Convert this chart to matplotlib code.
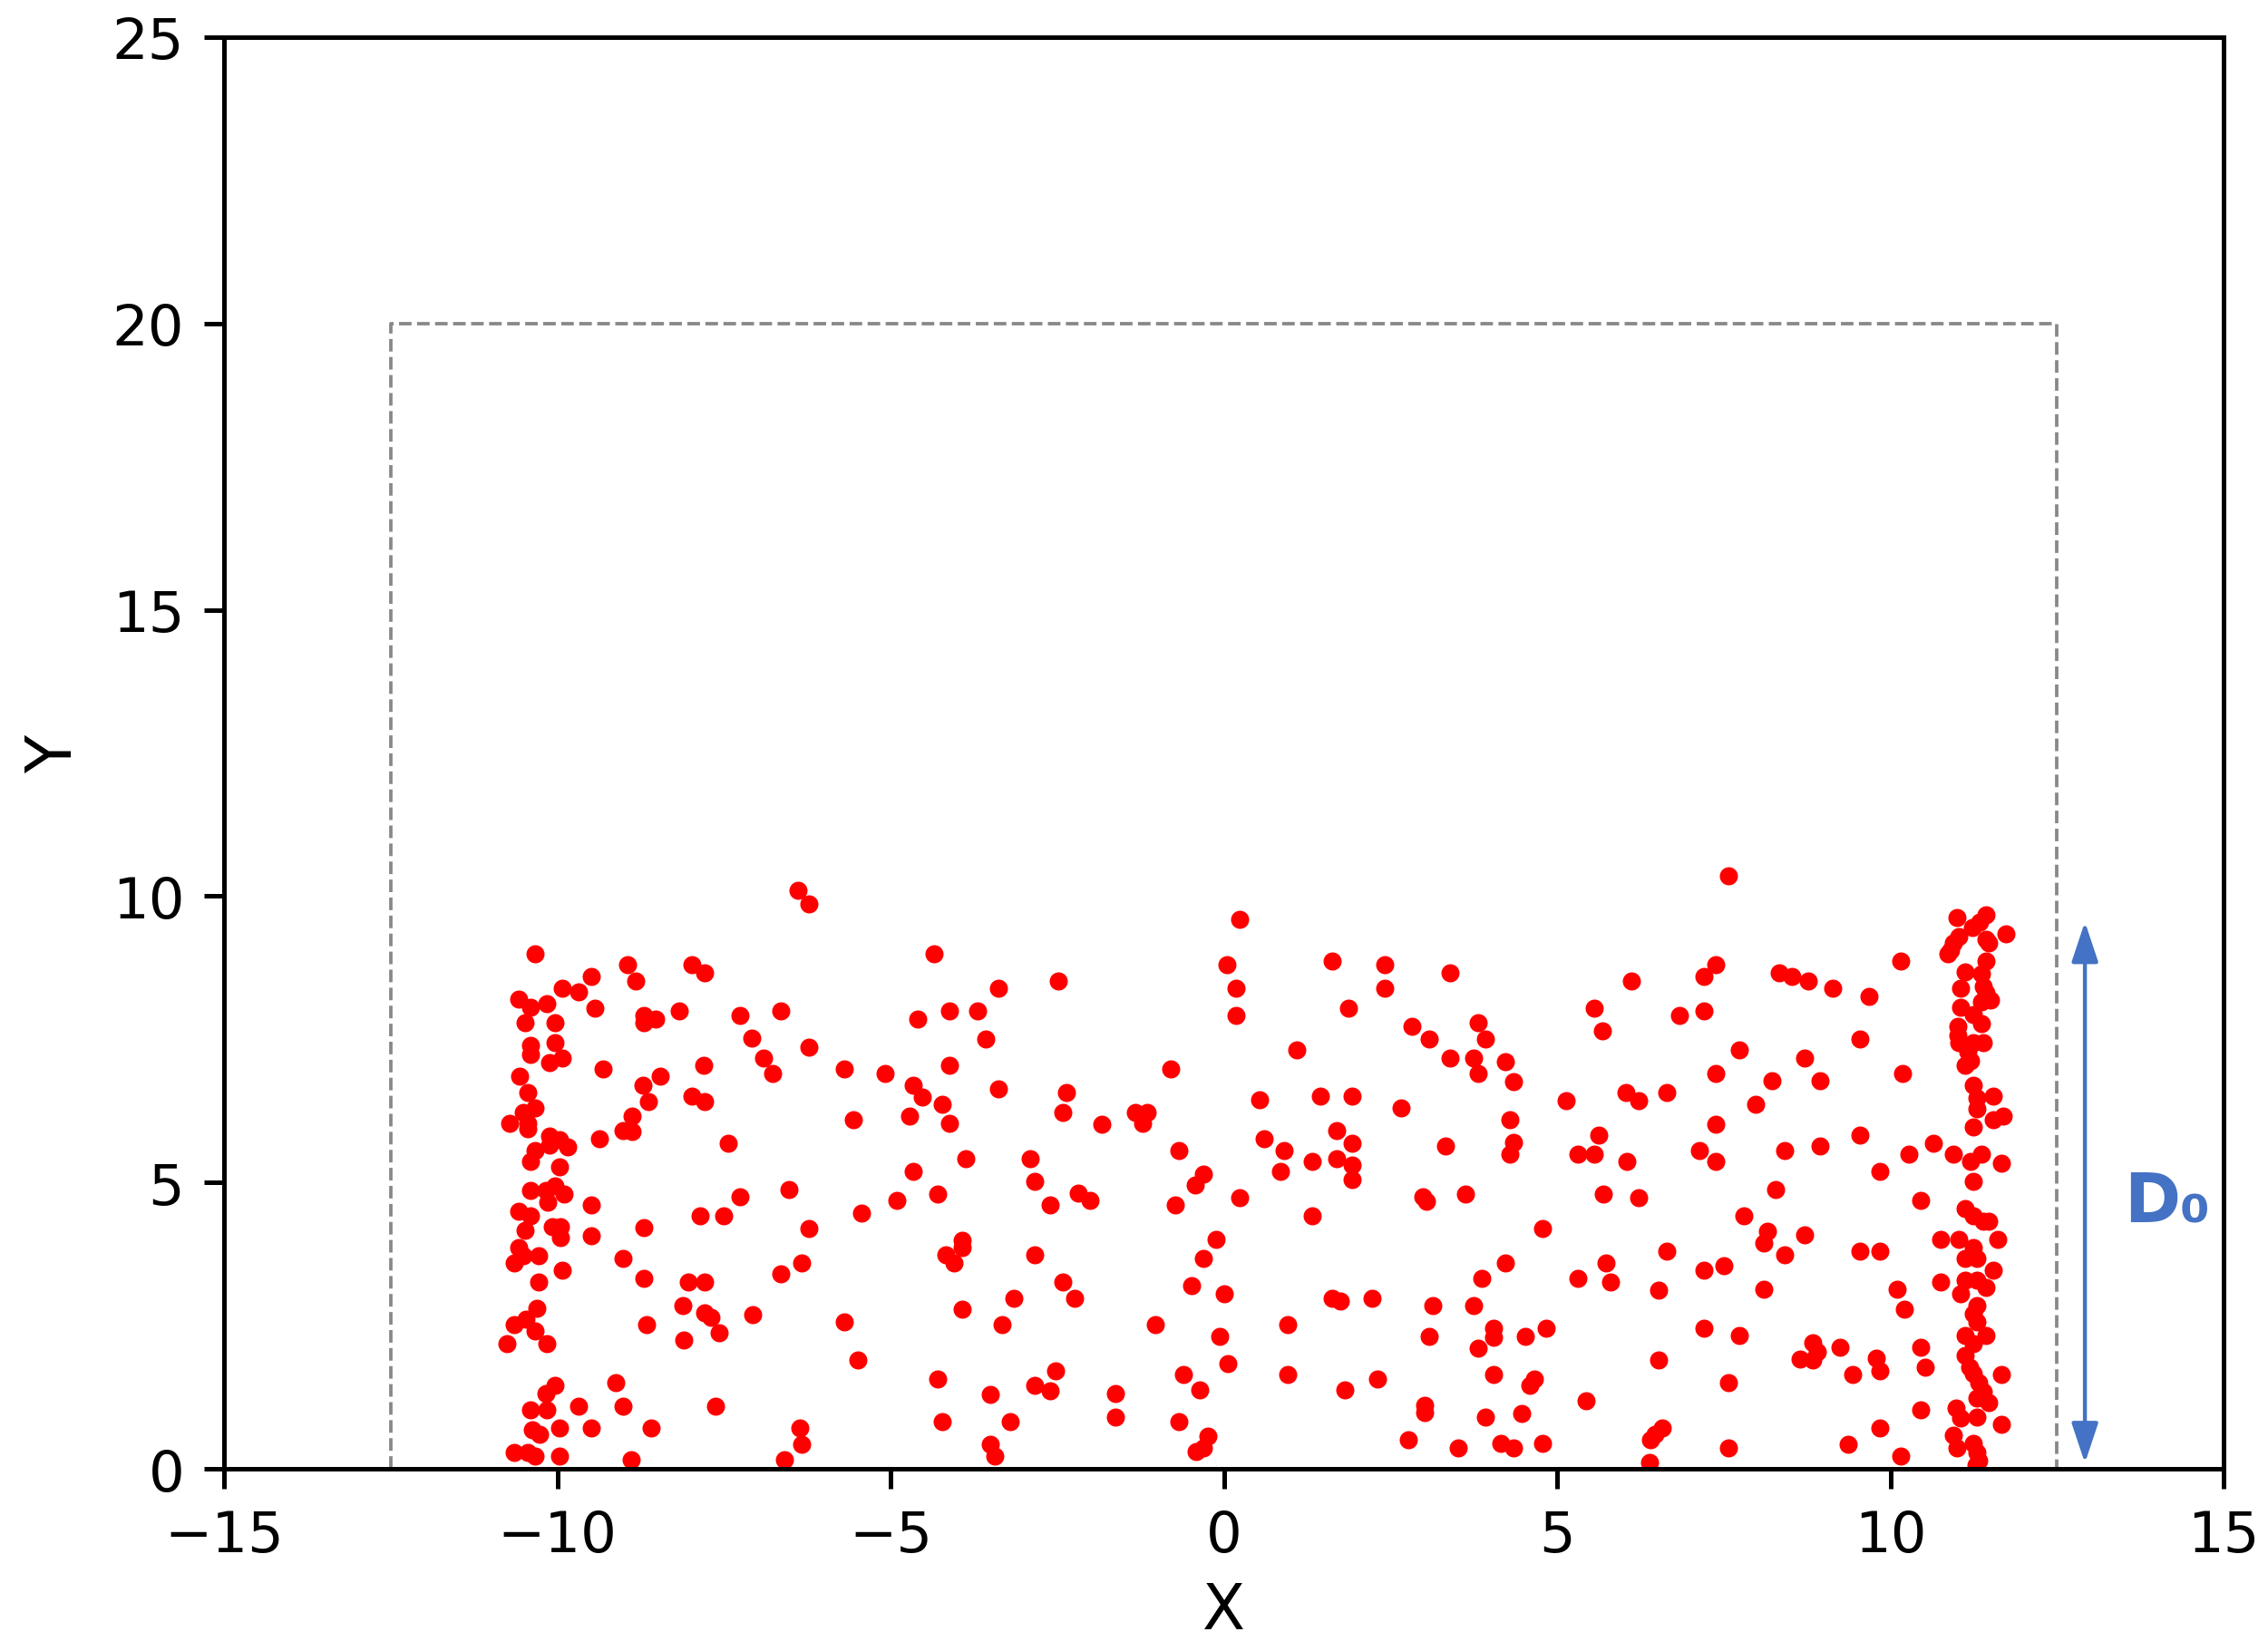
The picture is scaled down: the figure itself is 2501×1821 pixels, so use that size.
import matplotlib.pyplot as plt

# particle positions, grouped roughly left to right
x_pts = [
    # x < -6.4, upper half
    -6.39, -10.33, -8.95, -8.82, -7.98, -7.79, -9.49, -9.92, -9.68, -10.58,
    -10.40, -10.16, -9.44, -8.70, -8.70, -8.52, -8.17, -7.26, -6.65, -10.49,
    -10.04, -7.08, -6.91, -6.77, -10.40, -10.40, -10.04, -9.93, -10.11, -9.31,
    -7.80, -10.56, -8.46, -8.71, -10.45, -8.64, -7.98, -7.79, -10.33, -10.51,
    -10.71, -10.45, -10.45, -8.88, -9.02, -8.88, -9.37, -7.43, -10.11, -9.97,
    -9.84, -10.11, -10.34, -10.40, -9.97,
    # x < -6.4, lower half
    -10.40, -10.17, -10.04, -9.90, -10.15, -9.49, -10.58, -10.40, -10.49, -10.08,
    -9.95, -9.95, -9.49, -8.70, -7.86, -7.50, -7.26, -6.52, -10.58, -10.65,
    -10.51, -10.28, -9.92, -10.28, -9.01, -8.70, -8.04, -7.79, -6.65, -10.31,
    -10.47, -10.65, -10.34, -10.76, -10.16, -8.66, -8.11, -7.79, -7.70, -7.57,
    -7.07, -8.10, -10.04, -10.17, -10.40, -10.16, -9.68, -9.13, -9.01, -7.62,
    -10.38, -10.27, -9.97, -9.49, -8.59, -10.65, -10.45, -10.33, -9.97, -8.89,
    -6.59,
    # -6.4 .. -1.8
    -6.23, -4.35, -3.38, -2.48, -4.59, -4.11, -3.69, -3.57, -6.23, -5.69,
    -5.08, -4.11, -4.66, -4.53, -4.23, -3.38, -2.36, -2.42, -1.83, -5.56,
    -4.72, -4.11, -3.87, -2.90, -4.66, -2.84, -2.18, -2.01, -2.60, -4.30,
    -4.90, -5.44, -6.23, -6.33, -3.93, -3.93, -4.17, -4.05, -2.84, -2.42,
    -2.24, -3.15, -3.93, -3.33, -5.69, -5.49, -4.30, -3.51, -2.84, -2.60,
    -2.53, -4.23, -3.20, -6.36, -6.34, -3.51, -3.44,
    # -1.8 .. 2.9
    0.24, 0.05, 0.18, 0.18, 1.63, 2.41, 2.41, 1.87, 2.82, 1.09,
    -0.79, -1.33, -1.15, -1.22, 0.54, 1.45, 1.93, 2.66, 0.60, 0.90,
    1.69, 1.93, 1.69, 1.33, 1.93, -0.67, 0.85, 1.93, -0.31, -0.43,
    -0.73, 0.24, 1.33, -0.12, -0.30, -0.48, 0.00, -1.03, -0.06, 0.06,
    0.96, 1.63, 1.75, 2.23, -0.61, -0.36, 0.96, 1.81, 2.30, -1.63,
    -1.63, -0.67, -0.24, -0.42, -0.31, 2.77,
    # 2.9 .. 7.5
    3.39, 6.11, 7.38, 7.20, 5.56, 5.68, 6.83, 7.20, 3.08, 3.81,
    3.93, 3.39, 3.75, 3.81, 4.23, 4.35, 7.38, 5.14, 6.04, 6.23,
    6.65, 7.38, 4.29, 4.35, 4.29, 3.33, 5.62, 5.31, 5.56, 6.05,
    7.13, 7.38, 2.98, 3.04, 3.63, 5.69, 6.23, 4.78, 6.65, 4.22,
    3.87, 5.74, 5.80, 5.31, 6.53, 7.20, 3.14, 3.75, 3.08, 4.05,
    4.05, 3.81, 4.53, 4.84, 7.20, 6.53, 4.05, 4.66, 4.59, 3.02,
    3.02, 3.93, 4.47, 5.44, 6.58, 6.40, 6.47, 6.39, 3.51, 4.16,
    4.35, 4.78,
    # 7.5 .. 10.8
    7.57, 10.16, 8.33, 8.52, 8.77, 9.13, 9.68, 9.55, 7.74, 8.71,
    8.22, 8.95, 7.98, 10.19, 9.55, 8.41, 8.94, 10.28, 10.64, 10.94,
    9.85, 8.28, 10.46, 7.80, 8.16, 8.10, 8.41, 8.71, 7.51, 9.55,
    9.85, 8.10, 10.10, 10.21, 7.74, 8.83, 8.90, 8.65, 8.83, 9.25,
    9.43, 9.79, 9.85, 10.46, 10.52, 7.57, 10.46, 9.85, 9.37, 10.16,
    7.57,
    # right wall cluster
    11.00, 11.43, 11.34, 11.23, 11.73, 11.43, 11.48, 11.03, 10.94, 10.90,
    10.87, 11.43, 11.12, 11.37, 11.06, 11.39, 11.44, 11.50, 11.37, 11.06,
    11.25, 11.37, 11.01, 11.01, 11.03, 11.25, 11.39, 11.16, 11.21, 11.12,
    11.25, 11.55, 11.30, 11.30, 11.69, 11.55, 11.25, 11.37, 11.21, 11.66,
    11.24, 11.12, 11.25, 11.39, 11.48, 10.76, 11.03, 11.61, 11.25, 11.12,
    11.30, 11.55, 10.76, 11.12, 11.30, 11.44, 11.05, 11.30, 11.25, 11.30,
    11.12, 11.44, 11.25, 11.12, 11.19, 11.25, 11.66, 11.32, 11.39, 11.30,
    11.48, 10.99, 11.05, 11.30, 11.66, 10.94, 11.00, 11.25, 11.30, 11.32,
    11.28,
]
y_pts = [
    10.10, 9.00, 8.81, 8.52, 8.81, 8.66, 8.60, 8.39, 8.33, 8.20,
    8.06, 8.13, 8.05, 7.92, 7.79, 7.86, 7.99, 7.92, 7.99, 7.79,
    7.79, 7.52, 7.18, 6.91, 7.39, 7.23, 7.44, 7.18, 7.10, 6.98,
    7.05, 6.85, 6.85, 6.70, 6.57, 6.42, 6.50, 6.42, 6.30, 6.23,
    6.03, 6.04, 5.94, 6.16, 5.90, 5.89, 5.77, 5.69, 5.81, 5.75,
    5.62, 5.65, 5.56, 5.36, 5.28,
    4.86, 4.86, 4.94, 4.80, 4.65, 4.61, 4.49, 4.41, 4.17, 4.22,
    4.22, 4.04, 4.07, 4.21, 4.41, 4.41, 4.75, 4.88, 3.86, 3.59,
    3.72, 3.72, 3.46, 3.26, 3.67, 3.33, 3.26, 3.26, 3.40, 2.80,
    2.62, 2.52, 2.40, 2.18, 2.18, 2.51, 2.85, 2.72, 2.64, 2.38,
    2.69, 2.25, 1.46, 1.31, 1.03, 1.03, 1.10, 1.51, 1.10, 1.10,
    0.68, 0.61, 0.71, 0.71, 0.71, 0.29, 0.29, 0.22, 0.23, 0.16,
    0.16,
    9.87, 9.00, 8.39, 8.52, 7.85, 7.99, 7.99, 7.51, 7.37, 6.98,
    6.90, 7.05, 6.70, 6.49, 6.37, 6.63, 6.57, 6.23, 6.02, 6.10,
    6.16, 6.03, 5.42, 5.42, 5.20, 5.02, 4.82, 4.68, 4.61, 4.80,
    4.68, 4.47, 4.20, 3.59, 3.99, 3.87, 3.73, 3.59, 3.73, 3.26,
    2.98, 2.98, 2.78, 2.51, 2.57, 1.90, 1.57, 1.30, 1.45, 1.36,
    1.71, 0.83, 0.83, 0.71, 0.43, 0.43, 0.22,
    9.60, 8.80, 8.39, 7.92, 8.87, 8.80, 8.39, 8.05, 7.73, 7.31,
    6.98, 6.23, 6.23, 6.03, 6.44, 6.51, 6.51, 6.30, 5.77, 5.56,
    5.90, 5.69, 5.42, 5.37, 5.31, 5.56, 5.20, 5.05, 5.15, 4.96,
    4.61, 4.74, 4.41, 4.00, 3.67, 3.20, 3.06, 2.52, 2.31, 1.83,
    2.52, 2.98, 2.93, 2.98, 1.64, 1.38, 1.64, 1.38, 1.57, 1.31,
    0.90, 0.83, 0.57, 0.30, 0.37, 0.51,
    8.66, 8.52, 8.80, 8.60, 8.05, 7.65, 7.92, 7.99, 7.51, 7.79,
    7.51, 7.18, 7.18, 6.90, 7.11, 6.76, 6.90, 6.43, 6.57, 6.43,
    6.57, 6.02, 6.10, 5.70, 5.49, 5.63, 5.83, 5.49, 5.49, 5.37,
    5.56, 5.37, 4.75, 4.67, 4.80, 4.80, 4.74, 4.20, 3.80, 3.59,
    3.33, 3.59, 3.26, 3.33, 3.12, 3.46, 2.85, 2.85, 2.31, 2.46,
    2.30, 2.11, 2.31, 2.46, 2.46, 1.90, 1.64, 1.57, 1.45, 1.11,
    0.98, 0.90, 0.97, 1.18, 0.71, 0.51, 0.61, 0.11, 0.36, 0.44,
    0.36, 0.44,
    10.36, 8.87, 8.66, 8.59, 8.52, 8.39, 8.25, 7.51, 7.31, 7.18,
    6.77, 6.77, 6.37, 6.91, 5.83, 5.56, 5.63, 5.49, 5.69, 5.49,
    5.20, 4.88, 4.68, 4.41, 4.15, 3.95, 3.73, 4.08, 3.54, 3.80,
    3.80, 3.13, 3.13, 2.78, 2.33, 2.20, 2.05, 1.92, 1.90, 2.12,
    1.64, 1.93, 1.71, 2.12, 1.77, 1.51, 1.03, 0.71, 0.43, 0.22,
    0.36,
    9.62, 9.67, 9.55, 9.45, 9.34, 9.24, 9.18, 9.29, 9.18, 9.05,
    8.99, 8.87, 8.67, 8.64, 8.39, 8.42, 8.31, 8.18, 8.15, 8.06,
    7.93, 7.78, 7.72, 7.57, 7.44, 7.44, 7.44, 7.28, 7.13, 7.05,
    6.70, 6.51, 6.47, 6.28, 6.16, 6.10, 5.97, 5.49, 5.36, 5.33,
    5.02, 4.54, 4.41, 4.33, 4.33, 4.00, 4.00, 4.00, 3.86, 3.67,
    3.67, 3.46, 3.26, 3.30, 3.30, 3.17, 3.05, 2.85, 2.70, 2.56,
    2.33, 2.33, 2.19, 1.98, 1.77, 1.67, 1.64, 1.51, 1.35, 1.23,
    1.16, 1.06, 0.88, 0.90, 0.77, 0.59, 0.36, 0.45, 0.29, 0.14,
    0.06,
]

box_x = [-12.5, -12.5, 12.5, 12.5]
box_y = [0, 20, 20, 0]
d0_x = 12.92
d0_bottom, d0_top = 0.1, 9.55

fig, ax = plt.subplots(figsize=(2501 / 450, 1822 / 450), dpi=450)
fig.subplots_adjust(left=0.0988, right=0.9804, bottom=0.1103, top=0.977)

ax.plot(box_x, box_y, '--', color='#888888', linewidth=0.6)
ax.plot(x_pts, y_pts, 'o', color='red', markersize=3.2, markeredgewidth=0)

ax.annotate('', xy=(d0_x, d0_bottom), xytext=(d0_x, d0_top),
            arrowprops=dict(arrowstyle='<|-|>,head_length=0.6,head_width=0.2',
                            color='#4472C4', lw=0.7, shrinkA=0, shrinkB=0))
ax.text(13.5, 4.65, 'D₀', color='#4472C4', fontsize=12, fontweight='bold',
        va='center', ha='left')

ax.set_xlim(-15, 15)
ax.set_ylim(0, 25)
ax.set_xticks([-15, -10, -5, 0, 5, 10, 15])
ax.set_yticks([0, 5, 10, 15, 20, 25])
ax.set_xlabel('X', fontsize=11, labelpad=3)
ax.set_ylabel('Y', fontsize=11, labelpad=5)

plt.savefig('out.png', dpi=450)
